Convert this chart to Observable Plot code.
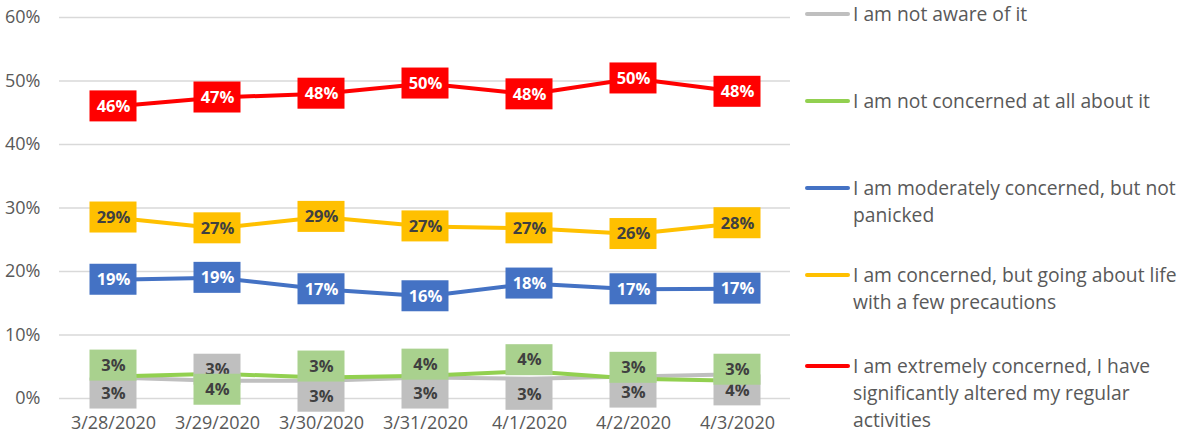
<!DOCTYPE html>
<html>
<head>
<meta charset="utf-8">
<script src="https://cdn.jsdelivr.net/npm/d3@7"></script>
<script src="https://cdn.jsdelivr.net/npm/@observablehq/plot@0.6"></script>
<style>
  html, body { margin: 0; padding: 0; background: #fff; }
  #wrap { position: relative; width: 1188px; height: 436px; overflow: hidden; font-family: "Open Sans", sans-serif; }
  #chart { position: absolute; left: 0; top: 0; }
  .legend-item { position: absolute; left: 805px; display: flex; align-items: flex-start; }
  .legend-swatch { width: 45px; height: 4px; border-radius: 2px; margin-top: 12px; flex: none; }
  .legend-text { margin-left: 3px; font-size: 19.3px; line-height: 27px; color: #595959; white-space: pre; }
</style>
</head>
<body>
<div id="wrap">
  <div id="chart"></div>
  <div id="legend"></div>
</div>
<script>
// ---- data ----
const dates = ["3/28/2020", "3/29/2020", "3/30/2020", "3/31/2020", "4/1/2020", "4/2/2020", "4/3/2020"];
const seriesNames = [
  "I am not aware of it",
  "I am not concerned at all about it",
  "I am moderately concerned, but not panicked",
  "I am concerned, but going about life with a few precautions",
  "I am extremely concerned, I have significantly altered my regular activities"
];
// legend lines as wrapped in the reference
const legendLines = [
  ["I am not aware of it"],
  ["I am not concerned at all about it"],
  ["I am moderately concerned, but not", "panicked"],
  ["I am concerned, but going about life", "with a few precautions"],
  ["I am extremely concerned, I have", "significantly altered my regular", "activities"]
];
const notAware      = [3.3, 2.8, 2.8, 3.3, 3.1, 3.45, 3.8];
const notConcerned  = [3.45, 3.9, 3.3, 3.6, 4.3, 3.1, 2.8];
const moderately    = [18.7, 19.0, 17.2, 16.1, 18.1, 17.2, 17.3];
const concerned     = [28.5, 26.8, 28.6, 27.1, 26.8, 25.9, 27.6];
const extremely     = [46.0, 47.4, 48.0, 49.6, 47.9, 50.4, 48.3];
const yTicks = [0, 10, 20, 30, 40, 50, 60];
// label side for the "not concerned" series (the "not aware" labels go to the opposite side)
const notConcernedLabelAbove = [true, false, true, true, true, true, true];

// ---- styling ----
const lineColors  = ["#BFBFBF", "#92D050", "#4472C4", "#FFC000", "#FF0000"];
const boxColors   = ["#BFBFBF", "#A9D18E", "#4472C4", "#FFC000", "#FF0000"];
const textColors  = ["#404040", "#404040", "#ffffff", "#404040", "#ffffff"];
const allValues = [notAware, notConcerned, moderately, concerned, extremely];

const rows = [];
allValues.forEach((vals, s) => {
  vals.forEach((v, i) => {
    let side = "center";
    if (s === 1) side = notConcernedLabelAbove[i] ? "above" : "below";
    if (s === 0) side = notConcernedLabelAbove[i] ? "below" : "above";
    rows.push({ series: seriesNames[s], s, date: dates[i], value: v, side, label: Math.round(v) + "%" });
  });
});

const sideDy = { center: 0, above: -11, below: 16 };
const boxW = 47, boxH = 31;

const labelMarks = [];
[0, 1, 2, 3, 4].forEach(s => {
  ["center", "above", "below"].forEach(side => {
    const d = rows.filter(r => r.s === s && r.side === side);
    if (!d.length) return;
    labelMarks.push(Plot.rect(d, {
      x1: "date", x2: "date", y1: "value", y2: "value",
      insetLeft: -boxW / 2, insetRight: -boxW / 2, insetTop: -boxH / 2, insetBottom: -boxH / 2,
      dy: sideDy[side], fill: boxColors[s]
    }));
    labelMarks.push(Plot.text(d, {
      x: "date", y: "value", text: "label", dy: sideDy[side],
      fill: textColors[s], fontWeight: "bold", fontSize: 16.5, fontFamily: "Open Sans"
    }));
  });
});

const lineMarks = [0, 1, 2, 3, 4].map(s =>
  Plot.line(rows.filter(r => r.s === s), {
    x: "date", y: "value", stroke: lineColors[s], strokeWidth: 4,
    strokeLinejoin: "round", strokeLinecap: "round"
  })
);

const chart = Plot.plot({
  width: 800,
  height: 436,
  marginLeft: 59,
  marginRight: 10,
  marginTop: 17,
  marginBottom: 38,
  style: { fontFamily: "Open Sans", fontSize: "18px", color: "#595959", background: "#fff" },
  x: { type: "point", domain: dates, padding: 0.5, label: null, tickSize: 0, tickPadding: 18 },
  y: { domain: [0, 60], ticks: yTicks, tickFormat: d => d + "%", label: null, tickSize: 0, tickPadding: 19 },
  marks: [
    Plot.gridY(yTicks, { stroke: "#D9D9D9", strokeOpacity: 1, strokeWidth: 1.3 }),
    ...lineMarks,
    ...labelMarks
  ]
});
document.getElementById("chart").appendChild(chart);

// ---- legend ----
const legendTops = [0, 87, 174, 261, 352];
const legend = document.getElementById("legend");
seriesNames.forEach((name, s) => {
  const item = document.createElement("div");
  item.className = "legend-item";
  item.style.top = legendTops[s] + "px";
  const sw = document.createElement("div");
  sw.className = "legend-swatch";
  sw.style.background = lineColors[s];
  const tx = document.createElement("div");
  tx.className = "legend-text";
  tx.textContent = legendLines[s].join("\n");
  item.appendChild(sw);
  item.appendChild(tx);
  legend.appendChild(item);
});
</script>
</body>
</html>
